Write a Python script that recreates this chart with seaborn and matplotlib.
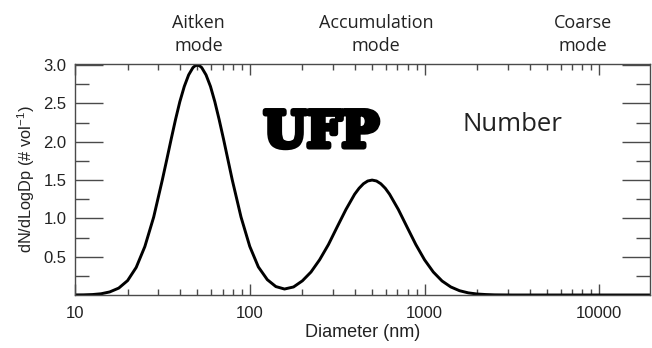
import matplotlib
matplotlib.use("Agg")
import matplotlib.pyplot as plt
import matplotlib.patheffects as pe
from matplotlib.ticker import LogLocator, FixedLocator, NullFormatter, FixedFormatter
import seaborn as sns
import pandas as pd

# Diameter (nm) and dN/dLogDp
diameter_nm = [10.0, 11.2, 12.6, 14.1, 15.8, 17.8, 20.0, 22.4, 25.1, 28.2,
               31.6, 33.5, 35.5, 37.6, 39.8, 42.2, 44.7, 47.3, 48.7, 50.1,
               51.6, 53.1, 56.2, 59.6, 63.1, 66.8, 70.8, 75.0, 79.4, 89.1,
               100, 112, 126, 141, 158, 178, 200, 224, 251, 282,
               316, 355, 398, 422, 447, 473, 501, 531, 562, 596,
               631, 708, 794, 891, 1000, 1122, 1259, 1413, 1585, 1778,
               1995, 2239, 2512, 3162, 5012, 10000, 19953]
dn_dlogdp = [0.001, 0.002, 0.006, 0.016, 0.040, 0.090, 0.188, 0.360, 0.632, 1.017,
             1.502, 1.766, 2.033, 2.290, 2.523, 2.722, 2.873, 2.968, 2.992, 3.000,
             2.992, 2.968, 2.873, 2.722, 2.523, 2.290, 2.033, 1.766, 1.502, 1.018,
             0.634, 0.366, 0.200, 0.110, 0.078, 0.105, 0.185, 0.300, 0.460, 0.659,
             0.887, 1.116, 1.315, 1.393, 1.452, 1.488, 1.500, 1.488, 1.452, 1.393,
             1.315, 1.116, 0.887, 0.659, 0.459, 0.300, 0.183, 0.105, 0.056, 0.028,
             0.013, 0.006, 0.002, 0.000, 0.000, 0.000, 0.000]

y_ticks = [0.5, 1.0, 1.5, 2.0, 2.5, 3.0]
y_tick_labels = ["0.5", "1.0", "1.5", "2.0", "2.5", "3.0"]
y_minor_ticks = [0.25, 0.75, 1.25, 1.75, 2.25, 2.75]
x_ticks = [10, 100, 1000, 10000]
x_tick_labels = ["10", "100", "1000", "10000"]

mode_labels = ["Aitken\nmode", "Accumulation\nmode", "Coarse\nmode"]
mode_centers_nm = [51, 530, 8100]

df = pd.DataFrame({"Diameter": diameter_nm, "dN": dn_dlogdp})

sns.set_theme(style="ticks")
plt.rcParams["font.family"] = ["Liberation Sans", "DejaVu Sans"]
plt.rcParams["mathtext.default"] = "regular"

fig = plt.figure(figsize=(6.52, 3.48), dpi=100)
ax = fig.add_axes([0.115, 0.1523, 0.882, 0.664])

sns.lineplot(data=df, x="Diameter", y="dN", color="black", linewidth=2.1,
             ax=ax, sort=False, estimator=None)

ax.set_xscale("log")
ax.set_xlim(10, 19500)
ax.set_ylim(0, 3.016)

ax.xaxis.set_major_locator(FixedLocator(x_ticks))
ax.xaxis.set_major_formatter(FixedFormatter(x_tick_labels))
ax.xaxis.set_minor_locator(LogLocator(base=10, subs=[2, 3, 4, 5, 6, 7, 8, 9]))
ax.xaxis.set_minor_formatter(NullFormatter())
ax.yaxis.set_major_locator(FixedLocator(y_ticks))
ax.yaxis.set_major_formatter(FixedFormatter(y_tick_labels))
ax.yaxis.set_minor_locator(FixedLocator(y_minor_ticks))

tick_color = "#4a4a4a"
for side in ["left", "right", "top", "bottom"]:
    ax.spines[side].set_visible(True)
    ax.spines[side].set_color(tick_color)
    ax.spines[side].set_linewidth(1.0)

ax.tick_params(axis="y", which="major", direction="in", length=20, width=1.0,
               color=tick_color, left=True, right=True, labelsize=12,
               labelcolor="#222222", pad=6)
ax.tick_params(axis="y", which="minor", direction="in", length=10, width=1.0,
               color=tick_color, left=True, right=True)
ax.tick_params(axis="x", which="major", direction="in", length=8, width=1.0,
               color=tick_color, top=True, bottom=True, labelsize=12,
               labelcolor="#222222", pad=8)
ax.tick_params(axis="x", which="minor", direction="in", length=4, width=1.0,
               color=tick_color, top=True, bottom=True)

ax.set_xlabel("Diameter (nm)", fontsize=13, color="#222222", labelpad=2)
ax.set_ylabel(r"dN/dLogDp (# vol$^{-1}$)", fontsize=11.8, color="#222222", labelpad=5)

ann_font = ["Open Sans", "DejaVu Sans"]
for x, lab in zip(mode_centers_nm, mode_labels):
    ax.text(x, 3.016 + 0.11, lab, ha="center", va="bottom", fontsize=13,
            family=ann_font, color="#222222", linespacing=1.42,
            transform=ax.transData, clip_on=False)

ax.text(0.428, 0.70, "UFP", transform=ax.transAxes, ha="center", va="center",
        fontsize=35.5, fontweight="heavy", family=["DejaVu Serif"], color="black",
        path_effects=[pe.withStroke(linewidth=4, foreground="black")])
ax.text(0.76, 0.736, "Number", transform=ax.transAxes, ha="center", va="center",
        fontsize=18.5, family=ann_font, color="#222222")

fig.savefig("out.png", dpi=100)
